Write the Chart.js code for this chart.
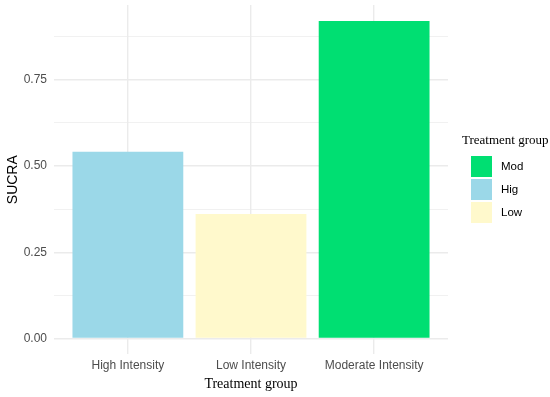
<!DOCTYPE html>
<html>
<head>
<meta charset="utf-8">
<script src="https://cdn.jsdelivr.net/npm/chart.js@4.4.1/dist/chart.umd.min.js"></script>
<style>
  html, body { margin: 0; padding: 0; background: #ffffff; }
  #wrap { width: 550px; height: 397px; }
</style>
</head>
<body>
<div id="wrap"><canvas id="c" width="550" height="397"></canvas></div>
<script>
// ---- data ----
const categories = ['High Intensity', 'Low Intensity', 'Moderate Intensity'];
const sucraValues = [0.541, 0.361, 0.920];
const barColors = ['#9BD8E8', '#FFF9CC', '#00DF72'];
const yTickValues = [0, 0.25, 0.5, 0.75];
const yTickLabels = ['0.00', '0.25', '0.50', '0.75'];
const yMinorValues = [0.125, 0.375, 0.625, 0.875];
const legendLabels = ['Mod', 'Hig', 'Low'];
const legendColors = ['#00DF72', '#9BD8E8', '#FFF9CC'];
const xTitle = 'Treatment group';
const yTitle = 'SUCRA';
const legendTitle = 'Treatment group';

const GRID = '#EBEBEB';
const TICK_COL = '#4D4D4D';

const legendPlugin = {
  id: 'ggLegend',
  afterDraw(chart) {
    const ctx = chart.ctx;
    ctx.save();
    ctx.fillStyle = '#000';
    ctx.font = '13px "Liberation Serif", "Times New Roman", serif';
    ctx.textBaseline = 'middle';
    ctx.textAlign = 'left';
    ctx.fillText(legendTitle, 462, 141);
    ctx.font = '11.5px "Liberation Sans", Arial, sans-serif';
    legendLabels.forEach((lab, i) => {
      const top = 156 + i * 23;
      ctx.fillStyle = legendColors[i];
      ctx.fillRect(471, top, 21, 21);
      ctx.fillStyle = '#000';
      ctx.fillText(lab, 501, top + 11);
    });
    ctx.restore();
  }
};

const allYTicks = yTickValues.concat(yMinorValues).sort((a, b) => a - b);

new Chart(document.getElementById('c'), {
  type: 'bar',
  data: {
    datasets: [{
      data: categories.map((c, i) => ({ x: i + 1, y: sucraValues[i] })),
      backgroundColor: barColors,
      borderWidth: 0,
      categoryPercentage: 1.0,
      barPercentage: 0.9
    }]
  },
  options: {
    responsive: false,
    animation: false,
    devicePixelRatio: 1,
    layout: { padding: { left: 0, right: 102, top: 5, bottom: 0 } },
    plugins: { legend: { display: false }, tooltip: { enabled: false } },
    scales: {
      x: {
        type: 'linear',
        offset: false,
        min: 0.4,
        max: 3.6,
        afterBuildTicks(scale) {
          scale.ticks = categories.map((c, i) => ({ value: i + 1 }));
        },
        afterFit(scale) {
          scale.height = 42.6;
          scale.paddingLeft = 0; scale.paddingRight = 0;
          scale.paddingTop = 0; scale.paddingBottom = 0;
        },
        ticks: {
          callback: (v) => categories[Math.round(v) - 1] || '',
          color: TICK_COL,
          font: { family: '"Liberation Sans", Arial, sans-serif', size: 12 },
          padding: 4,
          maxRotation: 0,
          autoSkip: false
        },
        grid: { color: GRID, lineWidth: 1.4, drawTicks: false, offset: false },
        border: { display: false },
        title: {
          display: true,
          text: xTitle,
          color: '#000',
          font: { family: '"Liberation Serif", "Times New Roman", serif', size: 14 },
          padding: { top: 0, bottom: 4 }
        }
      },
      y: {
        type: 'linear',
        min: -0.046,
        max: 0.966,
        afterBuildTicks(scale) {
          scale.ticks = allYTicks.map(v => ({ value: v }));
        },
        afterFit(scale) {
          scale.width = 54;
          scale.paddingLeft = 0; scale.paddingRight = 0;
          scale.paddingTop = 0; scale.paddingBottom = 0;
        },
        ticks: {
          callback: (v) => {
            const idx = yTickValues.findIndex(t => Math.abs(t - v) < 1e-9);
            return idx >= 0 ? yTickLabels[idx] : '';
          },
          color: TICK_COL,
          font: { family: '"Liberation Sans", Arial, sans-serif', size: 12 },
          padding: 7,
          autoSkip: false
        },
        grid: {
          color: GRID,
          drawTicks: false,
          lineWidth: (ctx) => {
            const v = ctx.tick ? ctx.tick.value : 0;
            return yTickValues.some(t => Math.abs(t - v) < 1e-9) ? 1.4 : 0.7;
          }
        },
        border: { display: false },
        title: {
          display: true,
          text: yTitle,
          color: '#000',
          font: { family: '"Liberation Sans", Arial, sans-serif', size: 14 },
          padding: { top: 5, bottom: 0 }
        }
      }
    }
  },
  plugins: [legendPlugin]
});
</script>
</body>
</html>
